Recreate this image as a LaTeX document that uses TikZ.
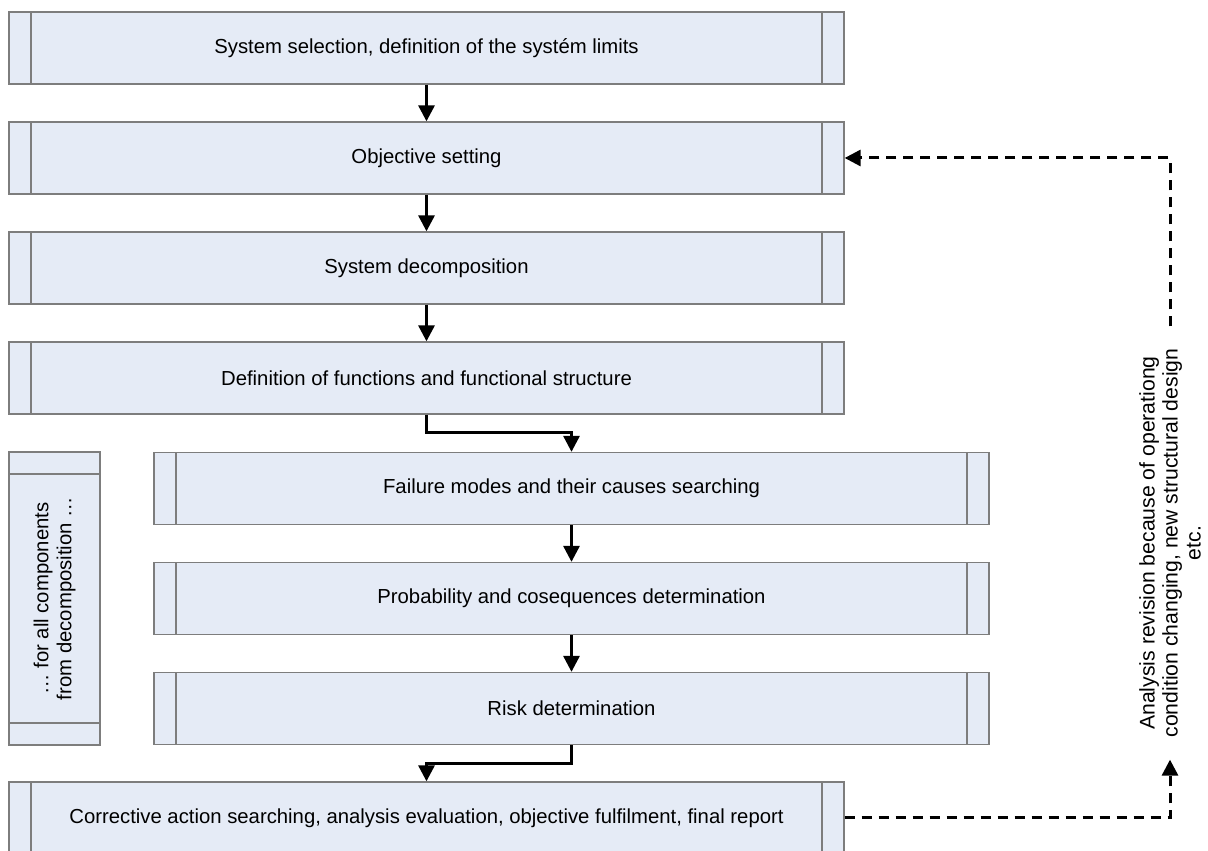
\documentclass[tikz,border=0pt]{standalone}
\usepackage{fontspec}
\setmainfont{Liberation Sans}
\usetikzlibrary{arrows.meta}

\definecolor{boxfill}{RGB}{229,235,246}
\definecolor{boxline}{RGB}{125,125,125}

\tikzset{every node/.style={font=\fontsize{20.3}{23}\selectfont}}
\tikzset{stage/.style={draw=boxline,fill=boxfill,line width=1.3pt,minimum width=835pt,minimum height=72pt,inner sep=0pt,
   path picture={
      \draw[boxline,line width=1.3pt] ([xshift=22pt]path picture bounding box.north west) -- ([xshift=22pt]path picture bounding box.south west);
      \draw[boxline,line width=1.3pt] ([xshift=-22pt]path picture bounding box.north east) -- ([xshift=-22pt]path picture bounding box.south east);}}}
\tikzset{loopbox/.style={draw=boxline,fill=boxfill,line width=1.3pt,minimum width=91pt,minimum height=293pt,inner sep=0pt,
   path picture={
      \draw[boxline,line width=1.3pt] ([yshift=-22pt]path picture bounding box.north west) -- ([yshift=-22pt]path picture bounding box.north east);
      \draw[boxline,line width=1.3pt] ([yshift=22pt]path picture bounding box.south west) -- ([yshift=22pt]path picture bounding box.south east);}}}
\tikzset{flow/.style={line width=3pt,-{Triangle[width=16pt,length=16pt]}}}
\tikzset{back/.style={flow,dash pattern=on 10pt off 7pt}}

\begin{document}
\begin{tikzpicture}[x=1pt,y=1pt]
   \useasboundingbox (0,0) rectangle (1208,851);

   \node[stage] (select) at (426.5,803) {System selection, definition of the systém limits};
   \node[stage] (objective) at (426.5,693) {Objective setting};
   \node[stage] (decomp) at (426.5,583) {System decomposition};
   \node[stage] (functions) at (426.5,473) {Definition of functions and functional structure};

   \node[stage] (failure) at (571.5,362.5) {Failure modes and their causes searching};
   \node[stage] (probability) at (571.5,252.5) {Probability and cosequences determination};
   \node[stage] (risk) at (571.5,142.5) {Risk determination};

   \node[loopbox] (loop) at (54.5,252.5) {};
   \node[rotate=90,align=center] (looptext) at (loop) {… for all components\\from decomposition …};

   \node[stage] (final) at (426.5,33) {Corrective action searching, analysis evaluation, objective fulfilment, final report};

   \node[rotate=90,align=center,inner xsep=22pt,font=\fontsize{21.2}{23}\selectfont] (revision) at (1170,308)
      {Analysis revision because of operationg\\condition changing, new structural design\\etc.};

   \draw[flow] (select) -- (objective);
   \draw[flow] (objective) -- (decomp);
   \draw[flow] (decomp) -- (functions);
   \draw[flow] (functions.south) -- ++(0,-18) -| (failure.north);
   \draw[flow] (failure) -- (probability);
   \draw[flow] (probability) -- (risk);
   \draw[flow] (risk.south) -- ++(0,-18) -| (final.north);

   \draw[back] (final.east) -| (revision.west);
   \draw[back] (revision.east) |- (objective.east);
\end{tikzpicture}
\end{document}
